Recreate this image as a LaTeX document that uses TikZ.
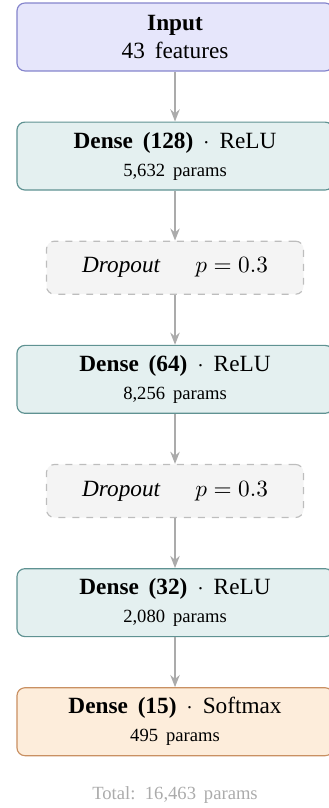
\documentclass[tikz,border=0pt]{standalone}
\usepackage{fontspec}
\setmainfont{Liberation Serif}[WordSpace=1.7]
\usetikzlibrary{positioning, arrows.meta}

\definecolor{infill}{HTML}{E6E6FB}
\definecolor{indraw}{HTML}{8484CC}
\definecolor{densefill}{HTML}{E4F0F0}
\definecolor{densedraw}{HTML}{5F9292}
\definecolor{outfill}{HTML}{FDEDDB}
\definecolor{outdraw}{HTML}{C99062}
\definecolor{dropfill}{HTML}{F4F4F4}
\definecolor{dropdraw}{HTML}{BDBDBD}
\definecolor{flowgray}{HTML}{ABABAB}

\begin{document}
\begin{tikzpicture}[
  node distance=21.5pt,
  layer/.style={
    rectangle, rounded corners=3.4pt, draw, line width=0.5pt,
    minimum width=135.9pt, minimum height=29.2pt, align=center,
    inner sep=2pt
  },
  inlayer/.style={layer, fill=infill, draw=indraw},
  denselayer/.style={layer, fill=densefill, draw=densedraw},
  outlayer/.style={layer, fill=outfill, draw=outdraw},
  droplayer/.style={
    layer, minimum width=110.5pt, minimum height=22.8pt,
    fill=dropfill, draw=dropdraw, dashed
  },
  flow/.style={
    draw=flowgray, line width=0.9pt,
    -{Stealth[length=5.2pt, width=4pt]}
  }
  ]
  \useasboundingbox (-75.25pt,15.9pt) rectangle (65.8pt,-331.5pt);

  \node[inlayer] (input) at (0,0) {\textbf{Input}\\43 features};
  \node[denselayer, below=of input] (dense1)
    {\textbf{Dense (128)} $\cdot$ ReLU\\{\footnotesize 5,632 params}};
  \node[droplayer, below=of dense1] (drop1)
    {\textit{Dropout}\hspace{1.5em}$p=0.3$};
  \node[denselayer, below=of drop1] (dense2)
    {\textbf{Dense (64)} $\cdot$ ReLU\\{\footnotesize 8,256 params}};
  \node[droplayer, below=of dense2] (drop2)
    {\textit{Dropout}\hspace{1.5em}$p=0.3$};
  \node[denselayer, below=of drop2] (dense3)
    {\textbf{Dense (32)} $\cdot$ ReLU\\{\footnotesize 2,080 params}};
  \node[outlayer, below=of dense3] (output)
    {\textbf{Dense (15)} $\cdot$ Softmax\\{\footnotesize 495 params}};

  % total below the stack
  \node[below=9.5pt of output, text=flowgray, font=\footnotesize] (total)
    {Total: 16,463 params};

  \foreach \a/\b in {input/dense1, dense1/drop1, drop1/dense2,
                     dense2/drop2, drop2/dense3, dense3/output}
    \draw[flow] (\a) -- (\b);
\end{tikzpicture}
\end{document}
